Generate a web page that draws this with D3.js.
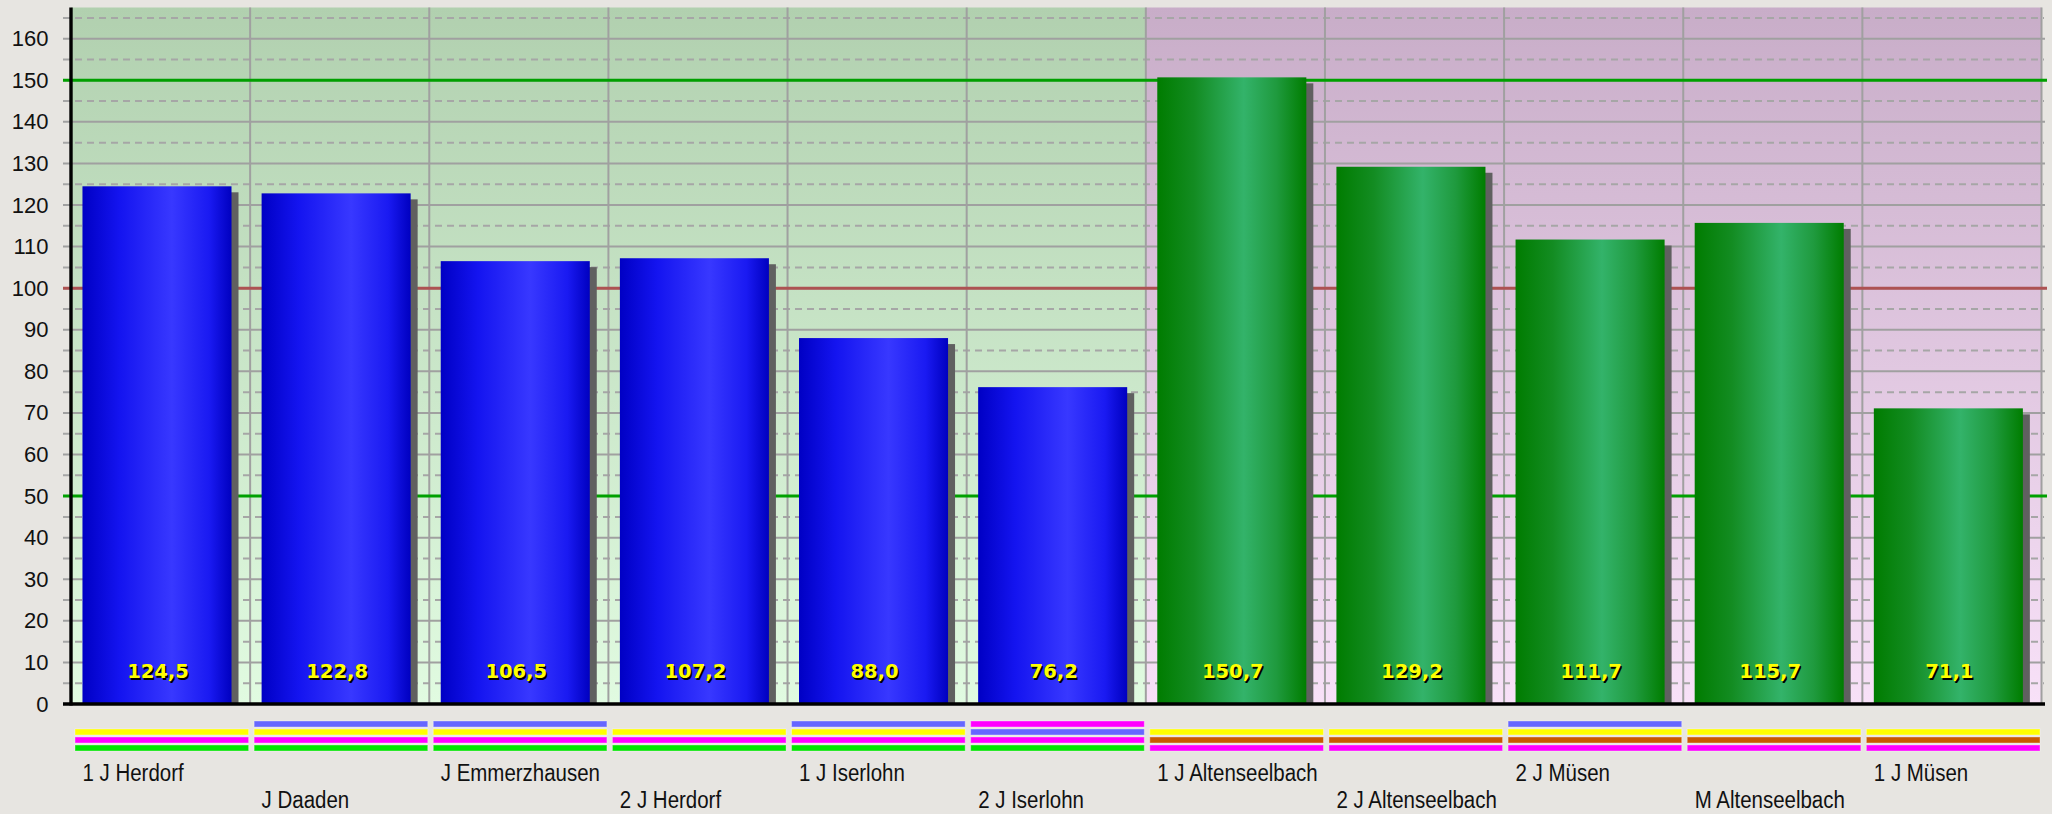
<!DOCTYPE html>
<html>
<head>
<meta charset="utf-8">
<script src="https://cdn.jsdelivr.net/npm/d3@7"></script>
<style>
  html, body { margin: 0; padding: 0; background: #e7e5e1; }
  svg { display: block; }
</style>
</head>
<body>
<script>
// Teams and their scores
const categories = ["1 J Herdorf", "J Daaden", "J Emmerzhausen", "2 J Herdorf", "1 J Iserlohn", "2 J Iserlohn",
  "1 J Altenseelbach", "2 J Altenseelbach", "2 J Müsen", "M Altenseelbach", "1 J Müsen"];
const values = [124.5, 122.8, 106.5, 107.2, 88.0, 76.2, 150.7, 129.2, 111.7, 115.7, 71.1];
// Group of each team: "A" = blue section, "B" = green section
const groups = ["A", "A", "A", "A", "A", "A", "B", "B", "B", "B", "B"];
// Marker stripes under each team, top row first (B blue, Y yellow, M magenta, G green, O orange, null empty)
const markerRows = [
  [null, "Y", "M", "G"],
  ["B", "Y", "M", "G"],
  ["B", "Y", "M", "G"],
  [null, "Y", "M", "G"],
  ["B", "Y", "M", "G"],
  ["M", "B", "M", "G"],
  [null, "Y", "O", "M"],
  [null, "Y", "O", "M"],
  ["B", "Y", "O", "M"],
  [null, "Y", "O", "M"],
  [null, "Y", "O", "M"]
];
const yTicks = [0, 10, 20, 30, 40, 50, 60, 70, 80, 90, 100, 110, 120, 130, 140, 150, 160];
const yMinorTicks = [5, 15, 25, 35, 45, 55, 65, 75, 85, 95, 105, 115, 125, 135, 145, 155, 165];
const limitLines = [50, 150];
const targetLines = [100];
const yMax = 167.5;

const W = 2052, H = 814;
const plotLeft = 71, plotRight = 2041.5, plotTop = 7.5, plotBottom = 704;

const markerColor = { B: "#6666ff", Y: "#ffff00", M: "#ff00ff", G: "#00e400", O: "#c85a00" };

const svg = d3.select("body").append("svg").attr("width", W).attr("height", H);
const defs = svg.append("defs");

const x = d3.scaleBand().domain(categories).range([plotLeft, plotRight]).padding(0);
const y = d3.scaleLinear().domain([0, yMax]).range([plotBottom, plotTop]);
const bw = x.bandwidth();

// Section backgrounds (vertical gradients)
function vGrad(id, top, bottom) {
  const g = defs.append("linearGradient").attr("id", id)
    .attr("x1", 0).attr("y1", 0).attr("x2", 0).attr("y2", 1);
  g.append("stop").attr("offset", "0%").attr("stop-color", top);
  g.append("stop").attr("offset", "100%").attr("stop-color", bottom);
}
vGrad("bgA", "#b1d0af", "#e1fbe1");
vGrad("bgB", "#c8adc8", "#f8e1f8");

// Bar gradients (horizontal, cylinder look)
function hGrad(id, stops) {
  const g = defs.append("linearGradient").attr("id", id)
    .attr("x1", 0).attr("y1", 0).attr("x2", 1).attr("y2", 0);
  stops.forEach(([o, c]) => g.append("stop").attr("offset", o).attr("stop-color", c));
}
hGrad("barA", [["0%", "#0000c4"], ["25%", "#1414f0"], ["60%", "#3838ff"], ["85%", "#1a1af2"], ["100%", "#0000c0"]]);
hGrad("barB", [["0%", "#007c00"], ["25%", "#138c22"], ["58%", "#33b36a"], ["80%", "#1f9a3e"], ["100%", "#007d00"]]);

const firstB = categories[groups.indexOf("B")];
svg.append("rect").attr("x", plotLeft).attr("y", plotTop)
  .attr("width", x(firstB) - plotLeft).attr("height", plotBottom - plotTop).attr("fill", "url(#bgA)");
svg.append("rect").attr("x", x(firstB)).attr("y", plotTop)
  .attr("width", plotRight - x(firstB)).attr("height", plotBottom - plotTop).attr("fill", "url(#bgB)");

// Grid
const grid = svg.append("g");
grid.selectAll("line.minor").data(yMinorTicks).join("line").attr("class", "minor")
  .attr("x1", 63).attr("x2", 2044).attr("y1", d => y(d)).attr("y2", d => y(d))
  .attr("stroke", "#a6a6a6").attr("stroke-width", 2).attr("stroke-dasharray", "7 5");
grid.selectAll("line.major").data(yTicks.filter(d => d > 0)).join("line").attr("class", "major")
  .attr("x1", 63).attr("x2", 2045).attr("y1", d => y(d)).attr("y2", d => y(d))
  .attr("stroke", "#a0a0a0").attr("stroke-width", 2);
grid.selectAll("line.vert").data(categories.slice(1)).join("line").attr("class", "vert")
  .attr("x1", d => x(d)).attr("x2", d => x(d)).attr("y1", plotTop).attr("y2", plotBottom)
  .attr("stroke", "#a0a0a0").attr("stroke-width", 2);
grid.append("line").attr("x1", plotRight).attr("x2", plotRight).attr("y1", plotTop).attr("y2", plotBottom)
  .attr("stroke", "#a0a0a0").attr("stroke-width", 2);

// Reference lines
svg.selectAll("line.limit").data(limitLines).join("line").attr("class", "limit")
  .attr("x1", 63).attr("x2", 2047).attr("y1", d => y(d)).attr("y2", d => y(d))
  .attr("stroke", "#00a000").attr("stroke-width", 3);
svg.selectAll("line.target").data(targetLines).join("line").attr("class", "target")
  .attr("x1", 63).attr("x2", 2047).attr("y1", d => y(d)).attr("y2", d => y(d))
  .attr("stroke", "#ad5252").attr("stroke-width", 3);

// Bars with drop shadows
const barOffset = bw * 0.064, barWidth = bw * 0.832;
const data = categories.map((c, i) => ({ c, v: values[i], g: groups[i], rows: markerRows[i], i }));

svg.selectAll("rect.shadow").data(data).join("rect").attr("class", "shadow")
  .attr("x", d => x(d.c) + barOffset + 7).attr("y", d => y(d.v) + 6)
  .attr("width", barWidth).attr("height", d => plotBottom - y(d.v) - 6)
  .attr("fill", "#606060");
svg.selectAll("rect.bar").data(data).join("rect").attr("class", "bar")
  .attr("x", d => x(d.c) + barOffset).attr("y", d => y(d.v))
  .attr("width", barWidth).attr("height", d => plotBottom - y(d.v))
  .attr("fill", d => d.g === "A" ? "url(#barA)" : "url(#barB)");

// Value labels inside bars
const fmt = v => d3.format(".1f")(v).replace(".", ",");
const lbl = svg.append("g").attr("font-family", "DejaVu Sans, Verdana, sans-serif")
  .attr("font-weight", "bold").attr("font-size", "19.5px").attr("text-anchor", "middle");
lbl.selectAll("text.sh").data(data).join("text").attr("class", "sh")
  .attr("x", d => x(d.c) + barOffset + barWidth / 2 + 2.5).attr("y", 679.5)
  .attr("fill", "#000").text(d => fmt(d.v));
lbl.selectAll("text.v").data(data).join("text").attr("class", "v")
  .attr("x", d => x(d.c) + barOffset + barWidth / 2 + 1).attr("y", 678)
  .attr("fill", "#ffff00").text(d => fmt(d.v));

// Axes lines
svg.append("line").attr("x1", plotLeft).attr("x2", plotLeft).attr("y1", plotTop).attr("y2", plotBottom + 1.5)
  .attr("stroke", "#000").attr("stroke-width", 3.4);
svg.append("line").attr("x1", 63).attr("x2", 2045).attr("y1", plotBottom).attr("y2", plotBottom)
  .attr("stroke", "#000").attr("stroke-width", 3.4);

// Y axis labels
const yAxis = d3.axisLeft(y).tickValues(yTicks).tickSize(0).tickPadding(3).tickFormat(d3.format("d"));
const ya = svg.append("g").attr("transform", "translate(51.5,0)").call(yAxis);
ya.select(".domain").remove();
ya.selectAll("text").attr("font-family", "Liberation Sans, Arial, sans-serif")
  .attr("font-size", "22px").attr("fill", "#111");

// Marker stripes under each team
const stripes = [];
data.forEach(d => d.rows.forEach((code, r) => { if (code) stripes.push({ c: d.c, r, code }); }));
svg.selectAll("rect.stripe").data(stripes).join("rect").attr("class", "stripe")
  .attr("x", d => x(d.c) + 4).attr("y", d => 721 + d.r * 8)
  .attr("width", bw - 5.5).attr("height", 6)
  .attr("fill", d => markerColor[d.code])
  .attr("stroke", "rgba(255,255,255,0.35)").attr("stroke-width", 1);

// Team names, alternating between two rows
svg.append("g").selectAll("text").data(data).join("text")
  .attr("transform", d => `translate(${x(d.c) + barOffset},${d.i % 2 === 0 ? 781 : 808}) scale(0.89,1)`)
  .attr("font-family", "Liberation Sans, Arial, sans-serif").attr("font-size", "23px")
  .attr("fill", "#111").text(d => d.c);
</script>
</body>
</html>
